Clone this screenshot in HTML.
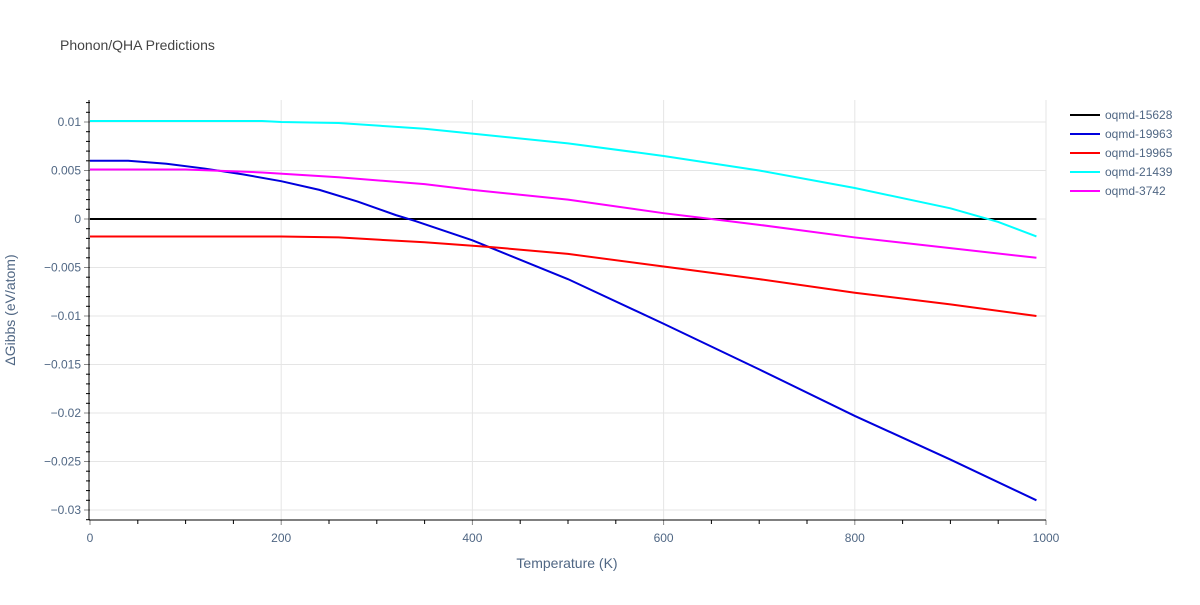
<!DOCTYPE html>
<html><head><meta charset="utf-8"><style>
body{margin:0;background:#fff;font-family:"Liberation Sans",sans-serif}
text{font-family:"Liberation Sans",sans-serif}
</style></head><body>
<svg id="c" width="1200" height="600" xmlns="http://www.w3.org/2000/svg">
<text x="60" y="50" font-size="14" fill="#444">Phonon/QHA Predictions</text>
<g id="grid"></g><g id="axes"></g><g id="series"></g><g id="legend"></g>
<text x="567" y="568" font-size="14" fill="#506784" text-anchor="middle">Temperature (K)</text>
<text transform="translate(15,310) rotate(-90)" font-size="14" fill="#506784" text-anchor="middle">ΔGibbs (eV/atom)</text>
</svg>
<script>
const xTicks=[0,200,400,600,800,1000];
const yTicks=[0.01,0.005,0,-0.005,-0.01,-0.015,-0.02,-0.025,-0.03];
const yTickLabels=["0.01","0.005","0","−0.005","−0.01","−0.015","−0.02","−0.025","−0.03"];
const seriesNames=["oqmd-15628","oqmd-19963","oqmd-19965","oqmd-21439","oqmd-3742"];
const seriesColors=["#000000","#0000dd","#ff0000","#00ffff","#ff00ff"];
const blackT=[0,990];
const blackV=[0,0];
const blueT=[0,40,80,120,160,200,240,280,320,340,400,420,500,600,700,800,900,990];
const blueV=[0.006,0.006,0.0057,0.0052,0.0046,0.0039,0.003,0.0018,0.0004,-0.0002,-0.0022,-0.003,-0.0062,-0.0108,-0.0155,-0.0203,-0.0248,-0.029];
const redT=[0,200,260,350,420,500,600,700,800,900,990];
const redV=[-0.0018,-0.0018,-0.0019,-0.0024,-0.0029,-0.0036,-0.0049,-0.0062,-0.0076,-0.0088,-0.01];
const cyanT=[0,100,180,200,260,350,400,500,600,700,800,900,950,990];
const cyanV=[0.0101,0.0101,0.0101,0.01,0.0099,0.0093,0.0088,0.0078,0.0065,0.005,0.0032,0.0011,-0.0003,-0.0018];
const magT=[0,100,180,260,350,400,500,600,650,700,800,900,990];
const magV=[0.0051,0.0051,0.0048,0.0043,0.0036,0.003,0.002,0.0006,0,-0.0006,-0.0019,-0.003,-0.004];
const X0=90,X1=1046,Y0=100,Y1=520;
const sx=t=>X0+(t/1000)*(X1-X0);
const sy=v=>219-v*9700;
const NS="http://www.w3.org/2000/svg";
function mk(tag,attrs,parent){const e=document.createElementNS(NS,tag);for(const k in attrs)e.setAttribute(k,attrs[k]);parent.appendChild(e);return e;}
const grid=document.getElementById('grid'),axes=document.getElementById('axes'),ser=document.getElementById('series'),leg=document.getElementById('legend');
xTicks.forEach(t=>{
 if(t>0){const l=mk('line',{x1:sx(t),x2:sx(t),y1:Y0,y2:Y1,stroke:'#e5e5e5'},grid);
 
 }
 const tx=mk('text',{x:sx(t),y:Y1+22,'font-size':12,fill:'#506784','text-anchor':'middle'},axes);tx.textContent=t;
 
 
});
yTicks.forEach((v,i)=>{
 const l=mk('line',{x1:X0,x2:X1,y1:sy(v),y2:sy(v),stroke:v===0?'#e5e5e5':'#e5e5e5'},grid);
 
 
 const tx=mk('text',{x:X0-9,y:sy(v)+4,'font-size':12,fill:'#506784','text-anchor':'end'},axes);tx.textContent=yTickLabels[i];
 
 
 mk('line',{x1:X0-6,x2:X0,y1:sy(v),y2:sy(v),stroke:'#888'},axes);
});
for(let k=-31;k<=12;k++){const v=k/1000;if(sy(v)<Y0||sy(v)>Y1)continue;if(k%5===0)continue;mk('line',{x1:X0-4,x2:X0,y1:sy(v),y2:sy(v),stroke:'#000'},axes);}
for(let t=50;t<1000;t+=50){if(t%200===0)continue;mk('line',{x1:sx(t),x2:sx(t),y1:Y1,y2:Y1+4,stroke:'#000'},axes);}
xTicks.forEach(t=>mk('line',{x1:sx(t),x2:sx(t),y1:Y1,y2:Y1+5,stroke:'#888'},axes));
const ax1=mk('line',{x1:X0-1,x2:X0-1,y1:Y0,y2:Y1,stroke:'#000'},axes);


const ax2=mk('line',{x1:X0-1,x2:X1,y1:Y1,y2:Y1,stroke:'#000'},axes);


const data=[[blackT,blackV],[blueT,blueV],[redT,redV],[cyanT,cyanV],[magT,magV]];
data.forEach((d,i)=>{
 const pts=d[0].map((t,j)=>sx(t)+','+sy(d[1][j])).join(' ');
 const p=mk('polyline',{points:pts,fill:'none',stroke:seriesColors[i],'stroke-width':2},ser);
 
 
 const y=115+i*19;
 const g=mk('g',{},leg);
 
 
 mk('line',{x1:1070,x2:1100,y1:y,y2:y,stroke:seriesColors[i],'stroke-width':2},g);
 const tx=mk('text',{x:1105,y:y+4,'font-size':12,fill:'#506784'},g);tx.textContent=seriesNames[i];
});
</script>
</body></html>
